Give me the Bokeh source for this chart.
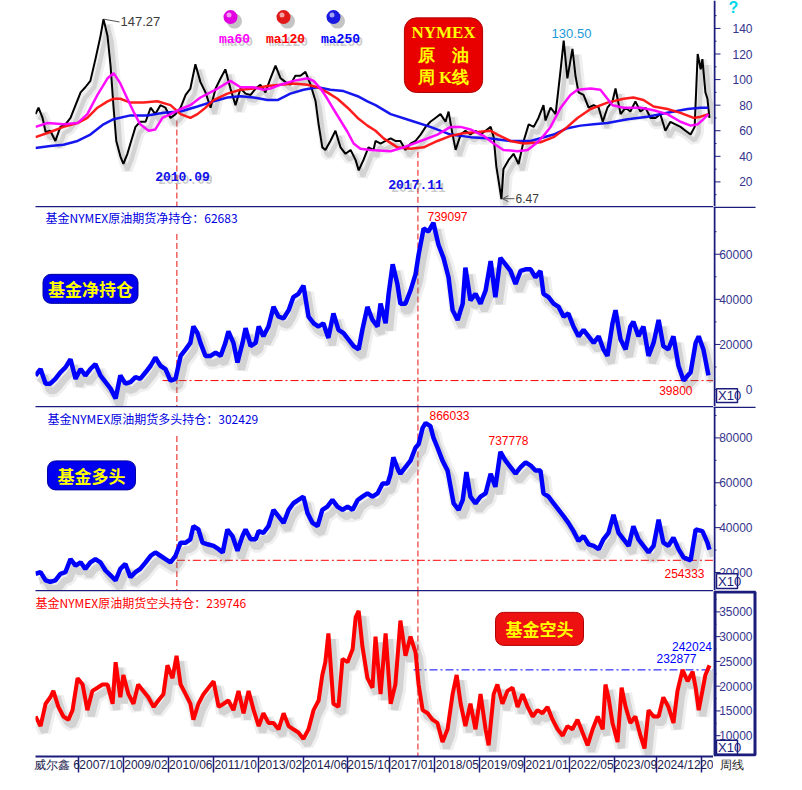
import numpy as np
from bokeh.plotting import figure
from bokeh.layouts import column, row
from bokeh.models import Range1d, LinearAxis, FixedTicker, Label, Arrow, OpenHead
from bokeh.embed import file_html
from bokeh.resources import INLINE
from bokeh.core.properties import value

# ---------------- data (decimal years) ----------------
price_t = [2006.47, 2006.56, 2006.68, 2006.77, 2006.91, 2007.06, 2007.21, 2007.36, 2007.51, 2007.66,
           2007.81, 2007.95, 2008.10, 2008.25, 2008.40, 2008.49, 2008.61, 2008.70, 2008.79, 2008.87,
           2008.99, 2009.08, 2009.20, 2009.29, 2009.44, 2009.58, 2009.74, 2009.89, 2010.03, 2010.18,
           2010.33, 2010.48, 2010.63, 2010.78, 2010.93, 2011.07, 2011.22, 2011.37, 2011.52, 2011.67,
           2011.82, 2011.97, 2012.11, 2012.26, 2012.41, 2012.56, 2012.71, 2012.86, 2013.01, 2013.15,
           2013.30, 2013.45, 2013.60, 2013.75, 2013.90, 2014.04, 2014.19, 2014.34, 2014.49, 2014.64,
           2014.79, 2014.88, 2014.99, 2015.08, 2015.23, 2015.38, 2015.53, 2015.68, 2015.83, 2015.98,
           2016.07, 2016.21, 2016.36, 2016.51, 2016.57, 2016.72, 2016.87, 2017.02, 2017.16, 2017.31,
           2017.46, 2017.61, 2017.76, 2017.91, 2018.06, 2018.20, 2018.35, 2018.50, 2018.65, 2018.74,
           2018.86, 2018.95, 2019.10, 2019.24, 2019.39, 2019.54, 2019.69, 2019.84, 2019.99, 2020.08,
           2020.16, 2020.22, 2020.31, 2020.37, 2020.52, 2020.67, 2020.82, 2020.97, 2021.12, 2021.27,
           2021.41, 2021.56, 2021.62, 2021.77, 2021.92, 2022.07, 2022.16, 2022.27, 2022.42, 2022.51,
           2022.60, 2022.75, 2022.90, 2023.05, 2023.20, 2023.32, 2023.46, 2023.61, 2023.70, 2023.85,
           2024.00, 2024.14, 2024.29, 2024.44, 2024.59, 2024.74, 2024.89, 2025.03, 2025.18, 2025.33,
           2025.48, 2025.63, 2025.78, 2025.93, 2026.05, 2026.14, 2026.23, 2026.28, 2026.37, 2026.43,
           2026.49]
price_v = [73, 78, 70, 59, 60, 52, 63, 65, 70, 80,
           90, 94, 99, 116, 134, 147.27, 134, 111, 78, 52,
           40, 34, 42, 50, 63, 67, 67, 78, 73, 80,
           78, 70, 73, 78, 88, 93, 112, 98, 90, 78,
           93, 101, 108, 93, 80, 93, 89, 88, 93, 96,
           90, 101, 111, 101, 98, 96, 103, 103, 106, 96,
           83, 65, 47, 45, 52, 60, 47, 42, 45, 37,
           29, 37, 47, 45, 52, 50, 52, 54, 52, 52,
           45, 50, 52, 57, 63, 67, 70, 73, 67, 75,
           57, 45, 57, 60, 57, 60, 57, 60, 63, 55,
           32, 22, 6.47, 30, 37, 42, 34, 52, 65, 63,
           70, 80, 68, 78, 73, 108, 130.5, 101, 124, 103,
           90, 88, 78, 80, 78, 67, 78, 83, 93, 73,
           78, 75, 83, 75, 78, 70, 70, 73, 60, 67,
           65, 63, 60, 57, 63, 120, 108, 116, 90, 85,
           70]

ma60_t = [2006.47, 2006.83, 2007.30, 2007.72, 2008.01, 2008.31, 2008.61, 2008.79, 2008.99, 2009.20,
          2009.38, 2009.58, 2009.83, 2010.03, 2010.24, 2010.48, 2010.78, 2011.07, 2011.37, 2011.88,
          2012.26, 2012.56, 2012.95, 2013.24, 2013.45, 2013.75, 2014.13, 2014.55, 2014.73, 2014.94,
          2015.14, 2015.32, 2015.53, 2015.74, 2015.92, 2016.12, 2016.42, 2017.02, 2017.40, 2017.91,
          2018.41, 2018.80, 2019.10, 2019.39, 2019.78, 2020.08, 2020.37, 2020.79, 2021.09, 2021.38,
          2021.56, 2021.77, 2022.07, 2022.36, 2022.57, 2022.96, 2023.25, 2023.46, 2023.61, 2023.94,
          2024.44, 2024.83, 2025.24, 2025.63, 2025.93, 2026.14, 2026.31, 2026.46]
ma60_v = [63, 66, 65, 66, 73, 88, 101, 105, 97, 85,
          75, 65, 60, 61, 70, 73, 77, 80, 86, 93,
          99, 94, 94, 92, 93, 96, 99, 101, 99, 93,
          85, 77, 68, 59, 50, 46, 45, 44, 47, 52,
          57, 63, 63, 61, 56, 50, 45, 44, 45, 51,
          56, 63, 78, 88, 92, 93, 92, 85, 80, 78,
          78, 76, 73, 67, 64, 65, 69, 73]

ma120_t = [2006.47, 2006.91, 2007.30, 2007.72, 2008.01, 2008.31, 2008.61, 2008.79, 2008.99, 2009.29,
           2009.68, 2010.09, 2010.48, 2010.78, 2011.07, 2011.28, 2011.52, 2011.76, 2012.17, 2012.56,
           2012.95, 2013.36, 2013.75, 2014.13, 2014.55, 2014.85, 2015.14, 2015.44, 2015.74, 2016.04,
           2016.33, 2016.57, 2016.81, 2017.22, 2017.61, 2018.00, 2018.41, 2018.80, 2019.18, 2019.60,
           2019.99, 2020.19, 2020.58, 2020.97, 2021.47, 2021.86, 2022.27, 2022.57, 2022.96, 2023.46,
           2023.94, 2024.23, 2024.53, 2024.83, 2025.24, 2025.63, 2026.02, 2026.23, 2026.46]
ma120_v = [55, 59, 63, 66, 70, 78, 83, 85, 85, 82,
           82, 83, 80, 73, 70, 73, 78, 84, 89, 92,
           93, 95, 96, 97, 96, 94, 90, 85, 78, 70,
           64, 60, 54, 47, 46, 47, 52, 56, 58, 59,
           60, 57, 52, 50, 51, 55, 63, 70, 77, 82,
           85, 86, 84, 79, 77, 74, 70, 71, 73]

ma250_t = [2006.47, 2006.91, 2007.30, 2007.72, 2008.10, 2008.49, 2008.79, 2009.29, 2009.80, 2010.27,
           2010.78, 2011.28, 2011.76, 2012.17, 2012.56, 2012.95, 2013.36, 2013.66, 2014.04, 2014.43,
           2014.85, 2015.23, 2015.62, 2016.04, 2016.33, 2016.57, 2017.02, 2017.61, 2018.20, 2018.80,
           2019.39, 2019.99, 2020.58, 2021.18, 2021.86, 2022.27, 2022.66, 2023.05, 2023.46, 2024.06,
           2024.65, 2025.24, 2025.84, 2026.23, 2026.46]
ma250_v = [46.5, 48, 49, 52, 57, 65, 69, 72, 72, 74,
           75, 79, 83, 86, 87, 86, 84, 84, 89, 92,
           94, 92, 91, 87, 83, 80, 73, 68, 63, 57,
           55, 54, 52, 52, 57, 62, 64, 65, 66, 69,
           71, 74, 77, 78, 78]

net_t = [2006.47, 2006.62, 2006.77, 2006.91, 2007.06, 2007.21, 2007.36, 2007.51, 2007.66, 2007.81,
         2007.95, 2008.10, 2008.25, 2008.40, 2008.55, 2008.70, 2008.85, 2008.99, 2009.14, 2009.29,
         2009.44, 2009.58, 2009.74, 2009.89, 2010.03, 2010.18, 2010.33, 2010.48, 2010.63, 2010.78,
         2010.93, 2011.07, 2011.16, 2011.28, 2011.37, 2011.52, 2011.67, 2011.82, 2011.97, 2012.11,
         2012.20, 2012.35, 2012.47, 2012.62, 2012.71, 2012.86, 2013.01, 2013.10, 2013.24, 2013.39,
         2013.54, 2013.69, 2013.84, 2013.99, 2014.13, 2014.28, 2014.43, 2014.58, 2014.73, 2014.88,
         2015.02, 2015.17, 2015.32, 2015.47, 2015.62, 2015.77, 2015.92, 2016.07, 2016.18, 2016.33,
         2016.48, 2016.63, 2016.72, 2016.87, 2016.96, 2017.08, 2017.22, 2017.31, 2017.46, 2017.61,
         2017.76, 2017.85, 2018.00, 2018.14, 2018.29, 2018.44, 2018.59, 2018.74, 2018.86, 2019.01,
         2019.16, 2019.24, 2019.39, 2019.54, 2019.69, 2019.84, 2019.99, 2020.13, 2020.28, 2020.43,
         2020.58, 2020.73, 2020.88, 2021.03, 2021.18, 2021.32, 2021.47, 2021.56, 2021.71, 2021.86,
         2022.01, 2022.16, 2022.30, 2022.45, 2022.60, 2022.75, 2022.90, 2023.05, 2023.20, 2023.34,
         2023.46, 2023.61, 2023.70, 2023.85, 2024.00, 2024.14, 2024.23, 2024.38, 2024.53, 2024.68,
         2024.83, 2024.98, 2025.12, 2025.27, 2025.42, 2025.57, 2025.72, 2025.93, 2026.08, 2026.17,
         2026.31, 2026.46]
net_v = [6200, 9100, 2600, 2600, 4750, 7650, 9800, 13450, 4750, 9100,
         6200, 9100, 11300, 6200, 3300, 400, -4000, 6200, 2600, 3300,
         5500, 4750, 7650, 10550, 14200, 10550, 9100, 4000, 4750, 14900,
         17800, 20700, 27950, 25050, 20700, 14900, 14900, 16350, 14900, 20700,
         25800, 20700, 12000, 20700, 27200, 19250, 20700, 27950, 23600, 27950,
         36650, 32300, 31600, 35200, 41000, 42450, 46100, 32300, 29400, 27950,
         29400, 22900, 33750, 26500, 25050, 22150, 19250, 17800, 26500, 36650,
         30850, 27950, 38100, 29400, 42450, 55500, 46800, 38000, 38100, 43900,
         51150, 59850, 71450, 70000, 73910, 64200, 58400, 49700, 35200, 30850,
         38100, 54050, 39550, 42450, 38100, 43900, 56950, 41000, 58400, 55500,
         52600, 46800, 52600, 53300, 53300, 49700, 52600, 42450, 41000, 38100,
         36650, 32300, 33750, 27950, 23600, 26500, 23600, 20700, 23600, 17800,
         14900, 29400, 35200, 22150, 17800, 27950, 30100, 23600, 27950, 14900,
         20700, 30850, 19250, 17800, 23600, 10550, 3980, 7650, 20700, 23600,
         17800, 6268]

long_t = [2006.47, 2006.62, 2006.77, 2006.91, 2007.06, 2007.21, 2007.36, 2007.51, 2007.66, 2007.81,
          2007.95, 2008.10, 2008.25, 2008.40, 2008.55, 2008.70, 2008.85, 2008.99, 2009.14, 2009.29,
          2009.44, 2009.58, 2009.74, 2009.89, 2010.03, 2010.18, 2010.33, 2010.48, 2010.63, 2010.78,
          2010.93, 2011.07, 2011.16, 2011.31, 2011.43, 2011.58, 2011.76, 2011.91, 2012.03, 2012.17,
          2012.32, 2012.47, 2012.62, 2012.71, 2012.86, 2013.01, 2013.10, 2013.24, 2013.39, 2013.54,
          2013.69, 2013.84, 2013.99, 2014.13, 2014.28, 2014.43, 2014.55, 2014.70, 2014.85, 2014.99,
          2015.14, 2015.29, 2015.44, 2015.59, 2015.74, 2015.89, 2016.04, 2016.18, 2016.33, 2016.48,
          2016.63, 2016.78, 2016.93, 2017.02, 2017.10, 2017.25, 2017.31, 2017.46, 2017.61, 2017.76,
          2017.85, 2017.97, 2018.06, 2018.20, 2018.29, 2018.41, 2018.56, 2018.71, 2018.80, 2018.89,
          2019.04, 2019.16, 2019.27, 2019.39, 2019.54, 2019.69, 2019.84, 2019.99, 2020.13, 2020.28,
          2020.43, 2020.58, 2020.73, 2020.88, 2021.03, 2021.18, 2021.32, 2021.47, 2021.56, 2021.71,
          2021.86, 2022.01, 2022.16, 2022.30, 2022.45, 2022.60, 2022.75, 2022.90, 2023.05, 2023.20,
          2023.34, 2023.49, 2023.64, 2023.79, 2023.94, 2024.09, 2024.23, 2024.38, 2024.53, 2024.68,
          2024.83, 2024.98, 2025.12, 2025.27, 2025.42, 2025.57, 2025.72, 2025.93, 2026.08, 2026.28,
          2026.43, 2026.49]
long_v = [19430, 20160, 16500, 15770, 16500, 19430, 20160, 26000, 23080, 24540,
          21620, 24540, 26000, 24540, 20890, 18700, 16500, 21620, 23810, 17960,
          20160, 21620, 24540, 27460, 28920, 27460, 26000, 24540, 27460, 33310,
          33310, 34780, 40620, 39160, 33310, 32580, 31850, 30390, 28920, 39160,
          36240, 29660, 36240, 39160, 34780, 34780, 38430, 37700, 40620, 47930,
          45010, 42090, 47930, 50860, 52320, 53780, 46470, 42090, 40620, 47930,
          49400, 52320, 49400, 47930, 49400, 47930, 52320, 53780, 55240, 53780,
          55240, 59630, 59630, 64020, 71330, 65480, 64020, 66940, 69860, 75710,
          77170, 84480, 86603, 85220, 80100, 75710, 69860, 65480, 58170, 50860,
          47930, 52320, 64750, 53780, 50860, 53780, 55240, 64020, 58170, 73778,
          69860, 66940, 64020, 66940, 69130, 67670, 65480, 65480, 55240, 53780,
          50860, 47930, 45010, 42090, 38430, 34050, 36240, 32580, 31850, 30390,
          34780, 37700, 45740, 37700, 34780, 31850, 40620, 34780, 31850, 28920,
          31850, 43550, 33310, 31850, 35510, 30390, 26740, 25433, 39160, 38430,
          33310, 30243]

short_t = [2006.47, 2006.62, 2006.77, 2006.91, 2007.00, 2007.15, 2007.30, 2007.45, 2007.57, 2007.72,
           2007.87, 2008.01, 2008.16, 2008.31, 2008.46, 2008.61, 2008.76, 2008.85, 2008.99, 2009.08,
           2009.23, 2009.38, 2009.52, 2009.67, 2009.82, 2009.98, 2010.12, 2010.27, 2010.39, 2010.54,
           2010.66, 2010.78, 2010.93, 2011.07, 2011.16, 2011.31, 2011.46, 2011.61, 2011.76, 2011.91,
           2012.06, 2012.20, 2012.35, 2012.50, 2012.65, 2012.80, 2012.95, 2013.10, 2013.24, 2013.39,
           2013.54, 2013.69, 2013.84, 2013.99, 2014.13, 2014.28, 2014.43, 2014.58, 2014.73, 2014.88,
           2014.99, 2015.08, 2015.17, 2015.32, 2015.47, 2015.59, 2015.74, 2015.89, 2015.98, 2016.07,
           2016.18, 2016.33, 2016.48, 2016.57, 2016.72, 2016.87, 2017.02, 2017.16, 2017.31, 2017.46,
           2017.61, 2017.76, 2017.85, 2017.97, 2018.12, 2018.26, 2018.41, 2018.56, 2018.71, 2018.86,
           2018.98, 2019.10, 2019.24, 2019.39, 2019.54, 2019.69, 2019.84, 2019.93, 2020.08, 2020.19,
           2020.34, 2020.49, 2020.64, 2020.79, 2020.94, 2021.09, 2021.24, 2021.38, 2021.53, 2021.68,
           2021.83, 2021.98, 2022.13, 2022.27, 2022.42, 2022.57, 2022.72, 2022.87, 2023.02, 2023.17,
           2023.32, 2023.40, 2023.49, 2023.61, 2023.76, 2023.88, 2024.00, 2024.14, 2024.29, 2024.44,
           2024.56, 2024.68, 2024.83, 2024.98, 2025.12, 2025.27, 2025.42, 2025.54, 2025.69, 2025.84,
           2025.99, 2026.08, 2026.17, 2026.28, 2026.37, 2026.49]
short_v = [13870, 11930, 16450, 17750, 19040, 15810, 13870, 13230, 15160, 21620,
           20330, 15160, 19040, 19680, 20330, 20330, 16450, 24850, 17750, 22270,
           18390, 16450, 20330, 19040, 17750, 15810, 17100, 18390, 24210, 21620,
           26140, 20330, 18390, 16450, 13230, 16450, 18390, 19680, 20980, 15810,
           16450, 17100, 15160, 19040, 14520, 19040, 15160, 11930, 14520, 12580,
           12580, 11290, 14520, 11930, 11290, 10640, 9350, 11290, 15160, 17100,
           22270, 24850, 30670, 16450, 15810, 25500, 24850, 27440, 33900, 35190,
           28080, 21620, 19680, 30020, 18390, 30670, 16450, 20330, 33250, 26140,
           30020, 26790, 20330, 15160, 14520, 13230, 12580, 8700, 11290, 18390,
           22270, 16450, 11930, 16450, 11290, 18390, 11290, 8060, 18390, 20330,
           16450, 19040, 19680, 15810, 18390, 15810, 13870, 15160, 14520, 15810,
           13230, 11290, 10000, 11930, 11290, 13230, 10640, 8060, 11290, 13870,
           11290, 20330, 17750, 12580, 8700, 19680, 15810, 12580, 13870, 10000,
           7410, 15160, 13870, 13870, 17750, 15810, 12580, 19040, 23288, 20980,
           22920, 19680, 15160, 19040, 22270, 24202]

tick_dates = [2007.75, 2009.083, 2010.417, 2011.75, 2013.083, 2014.417, 2015.75, 2017.0,
              2018.333, 2019.667, 2021.0, 2022.333, 2023.667, 2024.917, 2026.25]
tick_labels = ["2007/10", "2009/02", "2010/06", "2011/10", "2013/02", "2014/06", "2015/10", "2017/01",
               "2018/05", "2019/09", "2021/01", "2022/05", "2023/09", "2024/12", "20"]
first_label = "威尔鑫 6"
event_dates = [2010.67, 2017.83]
event_labels = ["2010.09", "2017.11"]
price_ticks = [20, 40, 60, 80, 100, 120, 140]
net_ticks = [0, 20000, 40000, 60000]
long_ticks = [20000, 40000, 60000, 80000]
short_ticks = [10000, 15000, 20000, 25000, 30000, 35000]
net_title_value, long_title_value, short_title_value = 62683, 302429, 239746
net_max_label, net_min_label, net_min_level = "739097", "39800", 3980
long_max_label, long_peak2_label, long_min_label, long_min_level = "866033", "737778", "254333", 25433
short_level, short_level_label, short_last_label = 23288, "232877", "242024"

# ---------------- layout helpers ----------------
X0, X1 = 2006.47, 2026.61
PXY = (X1 - X0) / 678.0
NAVY = "#1c1c7c"
TICK_TXT = "#34348c"
RED_DASH = "#e81010"

def X(px):
    return X0 + (px - 35) * PXY

# reference-pixel -> value helpers (used only to place annotations)
def V1(y): return (212.0 - y) / 1.31
def V2(y): return (397.7 - y) / 0.0023
def V3(y): return (629.3 - y) / 0.00228
def V4(y): return (804.9 - y) / 0.00516

H = [206, 200, 184, 184]
FH = [206, 199, 183, 168]
R1 = Range1d(V1(211), V1(0))
R2 = Range1d(V2(415), V2(211))
R3 = Range1d(V3(602), V3(415))
R4 = Range1d(V4(775), V4(602))
xr = Range1d(X0, X1)

def top_axis(p, color):
    ax = LinearAxis(ticker=FixedTicker(ticks=[]), axis_line_color=color, axis_line_width=1.5,
                    major_tick_out=0, major_tick_in=0, minor_tick_out=0, minor_tick_in=0,
                    major_label_standoff=0, major_label_text_font_size="0px")
    p.add_layout(ax, "above")

def clean(p):
    p.outline_line_color = None
    p.grid.grid_line_color = None
    p.background_fill_color = "white"
    p.border_fill_color = "white"

def main_fig(height, yr, below=False, top_line=True):
    p = figure(width=713, height=height, x_range=xr, y_range=yr, output_backend="svg",
               toolbar_location=None, x_axis_location=("below" if below else None),
               y_axis_location=None, min_border_left=35, min_border_right=0,
               min_border_top=0, min_border_bottom=0)
    clean(p)
    if top_line:
        top_axis(p, NAVY)
    return p

def side_fig(height, yr, below=False, top_line=True):
    s = figure(width=73, height=height, x_range=Range1d(713, 786), y_range=yr, output_backend="svg",
               toolbar_location=None, x_axis_location=("below" if below else None),
               y_axis_location=None, min_border_left=0, min_border_right=0,
               min_border_top=0, min_border_bottom=0)
    clean(s)
    if top_line:
        top_axis(s, None)
    return s

def side_axis(s, yr, ys, ticks, minor):
    s.segment(x0=[714], y0=[yr.start], x1=[714], y1=[yr.end], line_color=NAVY, line_width=2)
    n = len(ticks)
    s.segment(x0=[714] * n, y0=ticks, x1=[720] * n, y1=ticks, line_color=NAVY, line_width=1)
    m = len(minor)
    s.segment(x0=[714] * m, y0=minor, x1=[716] * m, y1=minor, line_color=NAVY, line_width=1)
    s.text(x=[752] * n, y=ticks, text=[str(t) for t in ticks], text_align="right",
           text_baseline="middle", text_font=value("Liberation Sans"), text_font_size="12px",
           text_color=TICK_TXT)

def x10(s, ytop, ybot):
    s.quad(left=[716], right=[737], top=[ytop], bottom=[ybot], fill_color="white",
           line_color=NAVY, line_width=1.5)
    s.text(x=[717.5], y=[(ytop + ybot) / 2.0], text=["X10"], text_align="left",
           text_baseline="middle", text_font=value("Liberation Sans"), text_font_size="13px",
           text_color=NAVY)

def shadow(p, t, v, ys, dxp=4, dyp=6, w=4):
    xs = np.asarray(t, float) + dxp * PXY
    yv = np.asarray(v, float) - dyp * ys
    p.line(xs, yv, line_color="#808080", line_alpha=0.13, line_width=w + 9)
    p.line(xs, yv, line_color="#707070", line_alpha=0.22, line_width=w + 3)

def add_label(p, x, y, text, color, size="12px", font="Liberation Sans", style="normal",
              align="left", tshadow=False, **kw):
    if tshadow:
        p.add_layout(Label(x=x, y=y, text=text, text_color="#666666", text_alpha=0.35,
                           text_font_size=size, text_font=font, text_font_style=style,
                           text_align=align, text_baseline="middle", x_offset=3, y_offset=-3))
    p.add_layout(Label(x=x, y=y, text=text, text_color=color, text_font_size=size, text_font=font,
                       text_font_style=style, text_align=align, text_baseline="middle", **kw))

def add_box(p, x, y, text, bg, border, size="17px", pad=(6, 3), font="Noto Sans CJK SC",
            radius=8, lh=1.2):
    common = dict(x=x, y=y, text=text, text_font_size=size, text_font=font, text_font_style="bold",
                  text_align="center", text_baseline="middle", padding=pad, border_radius=radius,
                  text_line_height=lh)
    p.add_layout(Label(text_alpha=0.0, background_fill_color="#404040", background_fill_alpha=0.4,
                       x_offset=4, y_offset=-5, **common))
    p.add_layout(Label(text_color="#ffff00", background_fill_color=bg, border_line_color=border,
                       border_line_width=1, **common))

# ---------------- panel 1: price ----------------
p1 = main_fig(H[0], R1, top_line=False)
s1 = side_fig(H[0], R1, top_line=False)
ys1 = (R1.end - R1.start) / FH[0]
side_axis(s1, R1, ys1, price_ticks, [t + 10 for t in price_ticks] + [10])
s1.text(x=[733], y=[V1(7)], text=["?"], text_align="center", text_baseline="middle",
        text_font=value("Liberation Sans"), text_font_size="16px", text_font_style="bold",
        text_color="#00d8e8")

p1.segment(x0=event_dates, y0=[V1(123), V1(155)], x1=event_dates, y1=[R1.start, R1.start],
           line_color=RED_DASH, line_dash="6 3", line_width=1)
shadow(p1, price_t, price_v, ys1, 4, 6, 1.5)
p1.line(price_t, price_v, line_color="black", line_width=2)
p1.line(ma250_t, ma250_v, line_color="#0a0aee", line_width=2.5, line_alpha=0.95)
p1.line(ma120_t, ma120_v, line_color="#ff1010", line_width=2.5, line_alpha=0.95)
p1.line(ma60_t, ma60_v, line_color="#ff00ff", line_width=2.5, line_alpha=0.95)

imax = int(np.argmax(price_v))
imin = int(np.argmin(price_v))
post = [i for i, t in enumerate(price_t) if t > 2021]
i2 = max(post, key=lambda i: price_v[i])
p1.segment(x0=[price_t[imax]], y0=[price_v[imax]], x1=[X(119)], y1=[V1(22)],
           line_color="#555555", line_width=1)
add_label(p1, X(120), V1(22), f"{price_v[imax]:.2f}", "#3c3c3c", size="13px")
add_label(p1, X(571), V1(34), f"{price_v[i2]:.2f}", "#1b9ad8", size="13px", align="center")
p1.add_layout(Arrow(end=OpenHead(size=6, line_color="#555555", line_width=1),
                    x_start=X(514), y_start=V1(203), x_end=price_t[imin] + 0.03, y_end=V1(203),
                    line_color="#555555", line_width=1))
add_label(p1, X(515), V1(203), f"{price_v[imin]:.2f}", "#3c3c3c", size="12px")

sx = [X(230), X(283), X(333)]
sy = [V1(17)] * 3
scol = ["#e000e0", "#e01818", "#1818e0"]
p1.scatter([x + 4 * PXY for x in sx], [y - 4 * ys1 for y in sy], size=15, fill_color="#555555",
           fill_alpha=0.35, line_color=None)
p1.scatter(sx, sy, size=14, fill_color=scol, line_color=None)
p1.scatter([x - 1.5 * PXY for x in sx], [y + 2 * ys1 for y in sy], size=5, fill_color="white",
           fill_alpha=0.6, line_color=None)
for cx, txt, col in [(X(234), "ma60", "#ff00ff"), (X(285), "ma120", "#ff0000"), (X(340), "ma250", "#0000ff")]:
    add_label(p1, cx, V1(40), txt, col, size="13px", font="Liberation Mono", style="bold",
              align="center", tshadow=True)
add_label(p1, X(182), V1(180), event_labels[0], "#1010ee", size="13px", font="Liberation Mono",
          style="bold", align="center", tshadow=True)
add_label(p1, X(415), V1(188), event_labels[1], "#1010ee", size="13px", font="Liberation Mono",
          style="bold", align="center", tshadow=True)
add_box(p1, X(443), V1(56), "NYMEX\n原\u3000油\n周 K线", "#e80000", "#b00000", size="17px",
        pad=(7, 5), font="Liberation Serif", radius=12, lh=1.2)

# ---------------- panel 2: net ----------------
p2 = main_fig(H[1], R2)
s2 = side_fig(H[1], R2)
ys2 = (R2.end - R2.start) / FH[1]
side_axis(s2, R2, ys2, net_ticks, [10000, 30000, 50000, 70000])
s2.segment(x0=[713], y0=[R2.end - 0.8 * ys2], x1=[755], y1=[R2.end - 0.8 * ys2],
           line_color=NAVY, line_width=1.5)
x10(s2, V2(397), V2(411))

p2.segment(x0=event_dates, y0=[V2(239), R2.end], x1=event_dates, y1=[R2.start, R2.start],
           line_color=RED_DASH, line_dash="6 3", line_width=1)
p2.segment(x0=[X(162)], y0=[net_min_level], x1=[X1], y1=[net_min_level],
           line_color="#ff0000", line_dash="8 3 2 3", line_width=1)
shadow(p2, net_t, net_v, ys2, 4, 7, 4)
p2.line(net_t, net_v, line_color="#0000ff", line_width=4.5)
add_label(p2, X(45), V2(222), f"基金NYMEX原油期货净持仓：{net_title_value}", "#0000e0",
          size="12px", font="Noto Sans CJK SC")
add_label(p2, X(427), V2(221), net_max_label, "#ff0000", size="12px")
add_label(p2, X(692), V2(399), net_min_label, "#ff0000", size="12px", align="right")
add_box(p2, X(90), V2(295), "基金净持仓", "#0000ee", "#0000a0", pad=(5, 2))

# ---------------- panel 3: long ----------------
p3 = main_fig(H[2], R3)
s3 = side_fig(H[2], R3)
ys3 = (R3.end - R3.start) / FH[2]
side_axis(s3, R3, ys3, long_ticks, [30000, 50000, 70000, 90000])
s3.segment(x0=[713], y0=[R3.end - 0.8 * ys3], x1=[755], y1=[R3.end - 0.8 * ys3],
           line_color=NAVY, line_width=1.5)
x10(s3, V3(585), V3(600))

p3.segment(x0=event_dates, y0=[V3(445), R3.end], x1=event_dates, y1=[R3.start, R3.start],
           line_color=RED_DASH, line_dash="6 3", line_width=1)
p3.segment(x0=[event_dates[0]], y0=[long_min_level], x1=[X1], y1=[long_min_level],
           line_color="#ff0000", line_dash="8 3 2 3", line_width=1)
shadow(p3, long_t, long_v, ys3, 4, 7, 4)
p3.line(long_t, long_v, line_color="#0000ff", line_width=4.5)
add_label(p3, X(47), V3(427), f"基金NYMEX原油期货多头持仓：{long_title_value}", "#0000e0",
          size="12px", font="Noto Sans CJK SC")
add_label(p3, X(429), V3(424), long_max_label, "#ff0000", size="12px")
add_label(p3, X(488), V3(450), long_peak2_label, "#ff0000", size="12px")
add_label(p3, X(704), V3(585), long_min_label, "#ff0000", size="12px", align="right")
add_box(p3, X(91), V3(485), "基金多头", "#0000ee", "#0000a0", pad=(10, 2))

# ---------------- panel 4: short ----------------
p4 = main_fig(H[3], R4, below=True)
s4 = side_fig(H[3], R4, below=True)
ys4 = (R4.end - R4.start) / FH[3]
side_axis(s4, R4, ys4, short_ticks, [12500, 17500, 22500, 27500, 32500, 37500])
x10(s4, V4(758), V4(773))
s4.quad(left=[714.5], right=[754.5], top=[R4.end - 1.5 * ys4], bottom=[R4.start + 1.5 * ys4],
        fill_color=None, line_color=NAVY, line_width=3)

p4.segment(x0=[event_dates[1]], y0=[R4.end], x1=[event_dates[1]], y1=[R4.start],
           line_color=RED_DASH, line_dash="6 3", line_width=1)
p4.segment(x0=[X(413)], y0=[short_level], x1=[X1], y1=[short_level],
           line_color="#0000ff", line_dash="8 3 2 3", line_width=1)
shadow(p4, short_t, short_v, ys4, 4, 6, 4)
p4.line(short_t, short_v, line_color="#ff0000", line_width=4)
add_label(p4, X0, V4(615), f"基金NYMEX原油期货空头持仓：{short_title_value}", "#ff0000",
          size="12px", font="Noto Sans CJK SC")
add_label(p4, X(656), V4(673), short_level_label, "#0000ff", size="12px")
add_label(p4, X1 - 1.5 * PXY, V4(660), short_last_label, "#0000ff", size="12px", align="right")
add_box(p4, X(539), V4(642), "基金空头", "#ee1111", "#b00000", pad=(10, 4))

bounds = [X0] + tick_dates + [X1]
centers = [round((a + b) / 2.0, 4) for a, b in zip(bounds[:-1], bounds[1:])]
labels = [first_label] + tick_labels

def style_x(a, ticks, minor, overrides, show_line, tick_len, standoff):
    a.ticker = FixedTicker(ticks=ticks, minor_ticks=minor)
    a.major_label_overrides = overrides
    a.axis_line_color = NAVY if show_line else None
    a.axis_line_width = 2
    a.major_tick_out = 0
    a.major_tick_in = 0
    a.minor_tick_out = tick_len
    a.minor_tick_in = 0
    a.minor_tick_line_color = NAVY
    a.minor_tick_line_width = 1.5
    a.major_label_standoff = standoff
    a.major_label_text_font = "Liberation Sans"
    a.major_label_text_font_size = "12px"
    a.major_label_text_color = "#1c1c50"

style_x(p4.below[0], centers, tick_dates, {c: l for c, l in zip(centers, labels)}, True, 16, -15)
style_x(s4.below[0], [731.5], [], {731.5: "周线"}, False, 0, 1)
s4.below[0].major_label_text_color = "#222222"

layout = column(row(p1, s1), row(p2, s2), row(p3, s3), row(p4, s4))
open("out.html", "w").write(file_html(layout, INLINE))
